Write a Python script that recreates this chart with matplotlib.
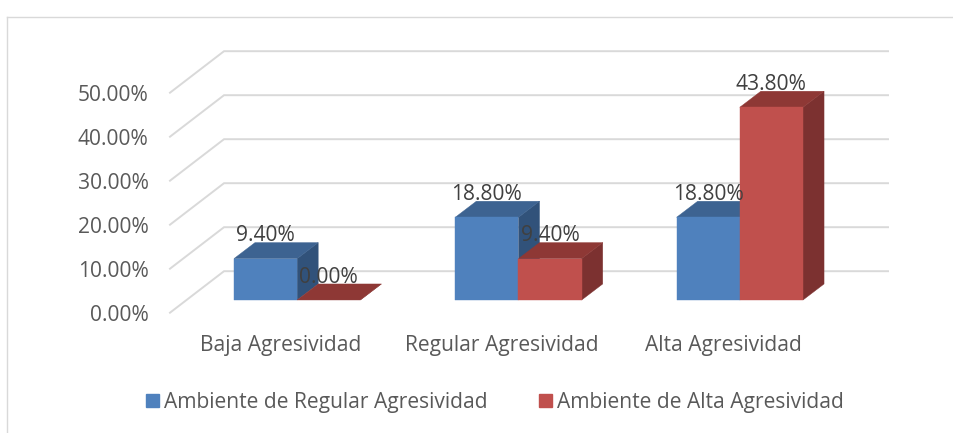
import matplotlib
matplotlib.use('Agg')
import matplotlib.pyplot as plt
from matplotlib.lines import Line2D
from matplotlib.patches import Patch, Polygon, Rectangle

plt.rcParams['font.family'] = ['Open Sans', 'DejaVu Sans']

W, H = 954, 433
FS = 15.1

categories = ['Baja Agresividad', 'Regular Agresividad', 'Alta Agresividad']
series_names = ['Ambiente de Regular Agresividad', 'Ambiente de Alta Agresividad']
regular = [9.4, 18.8, 18.8]
alta = [0.0, 9.4, 43.8]
yticks = [0, 10, 20, 30, 40, 50]

BLUE = ('#4F81BD', '#3D6391', '#31527A')
RED = ('#C0504D', '#8E3835', '#7C3130')
GRID = '#D9D9D9'

# fake 3d, depths in data units (x = category, y = percent)
WALL_DX, WALL_DY = 0.244, 9.43
BAR_DX, BAR_DY = 0.0745, 2.89
DEPTH_DX, DEPTH_DY = 0.095, 3.64
BAR_W = 0.2855


def draw_bar(ax, x0, val, cols):
    x0 = x0 + BAR_DX
    x1 = x0 + BAR_W
    y0 = BAR_DY
    y1 = val + BAR_DY
    dx, dy = DEPTH_DX, DEPTH_DY
    ax.add_patch(Polygon([(x1, y0), (x1 + dx, y0 + dy), (x1 + dx, y1 + dy), (x1, y1)],
                         fc=cols[2], ec=cols[2], lw=0.3, clip_on=False, zorder=3))
    ax.add_patch(Polygon([(x0, y1), (x1, y1), (x1 + dx, y1 + dy), (x0 + dx, y1 + dy)],
                         fc=cols[1], ec=cols[1], lw=0.3, clip_on=False, zorder=3))
    if val > 0:
        ax.add_patch(Rectangle((x0, y0), BAR_W, val, fc=cols[0], ec=cols[0],
                               lw=0.3, clip_on=False, zorder=3))


fig = plt.figure(figsize=(W / 100, H / 100), dpi=100)
ax = fig.add_axes([170 / W, 1 - 312.7 / H, 664 / W, 220 / H])
ax.set_xlim(0, 3)
ax.set_ylim(0, 50)
ax.patch.set_alpha(0)
for s in ax.spines.values():
    s.set_visible(False)

# outer frame of the chart
fig.add_artist(Line2D([7.5 / W, 7.5 / W], [0, 1 - 16.5 / H], color=GRID, lw=1.0))
fig.add_artist(Line2D([7.5 / W, 1], [1 - 16.5 / H, 1 - 16.5 / H], color=GRID, lw=1.0))

for t in yticks:
    ax.plot([0, WALL_DX, 3 + WALL_DX], [t, t + WALL_DY, t + WALL_DY], color=GRID, lw=1.4,
            clip_on=False, zorder=1, solid_joinstyle='miter')

for i in range(len(categories)):
    left = i + 0.5 - BAR_W
    draw_bar(ax, left, regular[i], BLUE)
    draw_bar(ax, left + BAR_W, alta[i], RED)
    for x0, v in ((left, regular[i]), (left + BAR_W, alta[i])):
        ax.annotate(f'{v:.2f}%', (x0 + BAR_DX + BAR_W / 2, v + BAR_DY), xytext=(0, 16.5),
                    textcoords='offset points', ha='center', va='center',
                    fontsize=FS, color='#404040', zorder=5, annotation_clip=False)

ax.set_yticks(yticks)
ax.set_yticklabels([f'{t:.2f}%' for t in yticks], fontsize=FS, color='#595959')
ax.set_xticks([i + 0.5 for i in range(len(categories))])
ax.set_xticklabels(categories, fontsize=FS, color='#595959')
ax.tick_params(axis='y', length=0, pad=15.5)
ax.tick_params(axis='x', length=0, pad=16)

handles = [Patch(fc=BLUE[0], ec=BLUE[0]), Patch(fc=RED[0], ec=RED[0])]
fig.legend(handles, series_names, loc='center', bbox_to_anchor=(495 / W, 1 - 402.5 / H),
           ncol=2, frameon=False, fontsize=FS, labelcolor='#595959',
           handlelength=0.62, handleheight=0.62, handletextpad=0.24, columnspacing=2.47)

fig.savefig('out.png', dpi=100)
